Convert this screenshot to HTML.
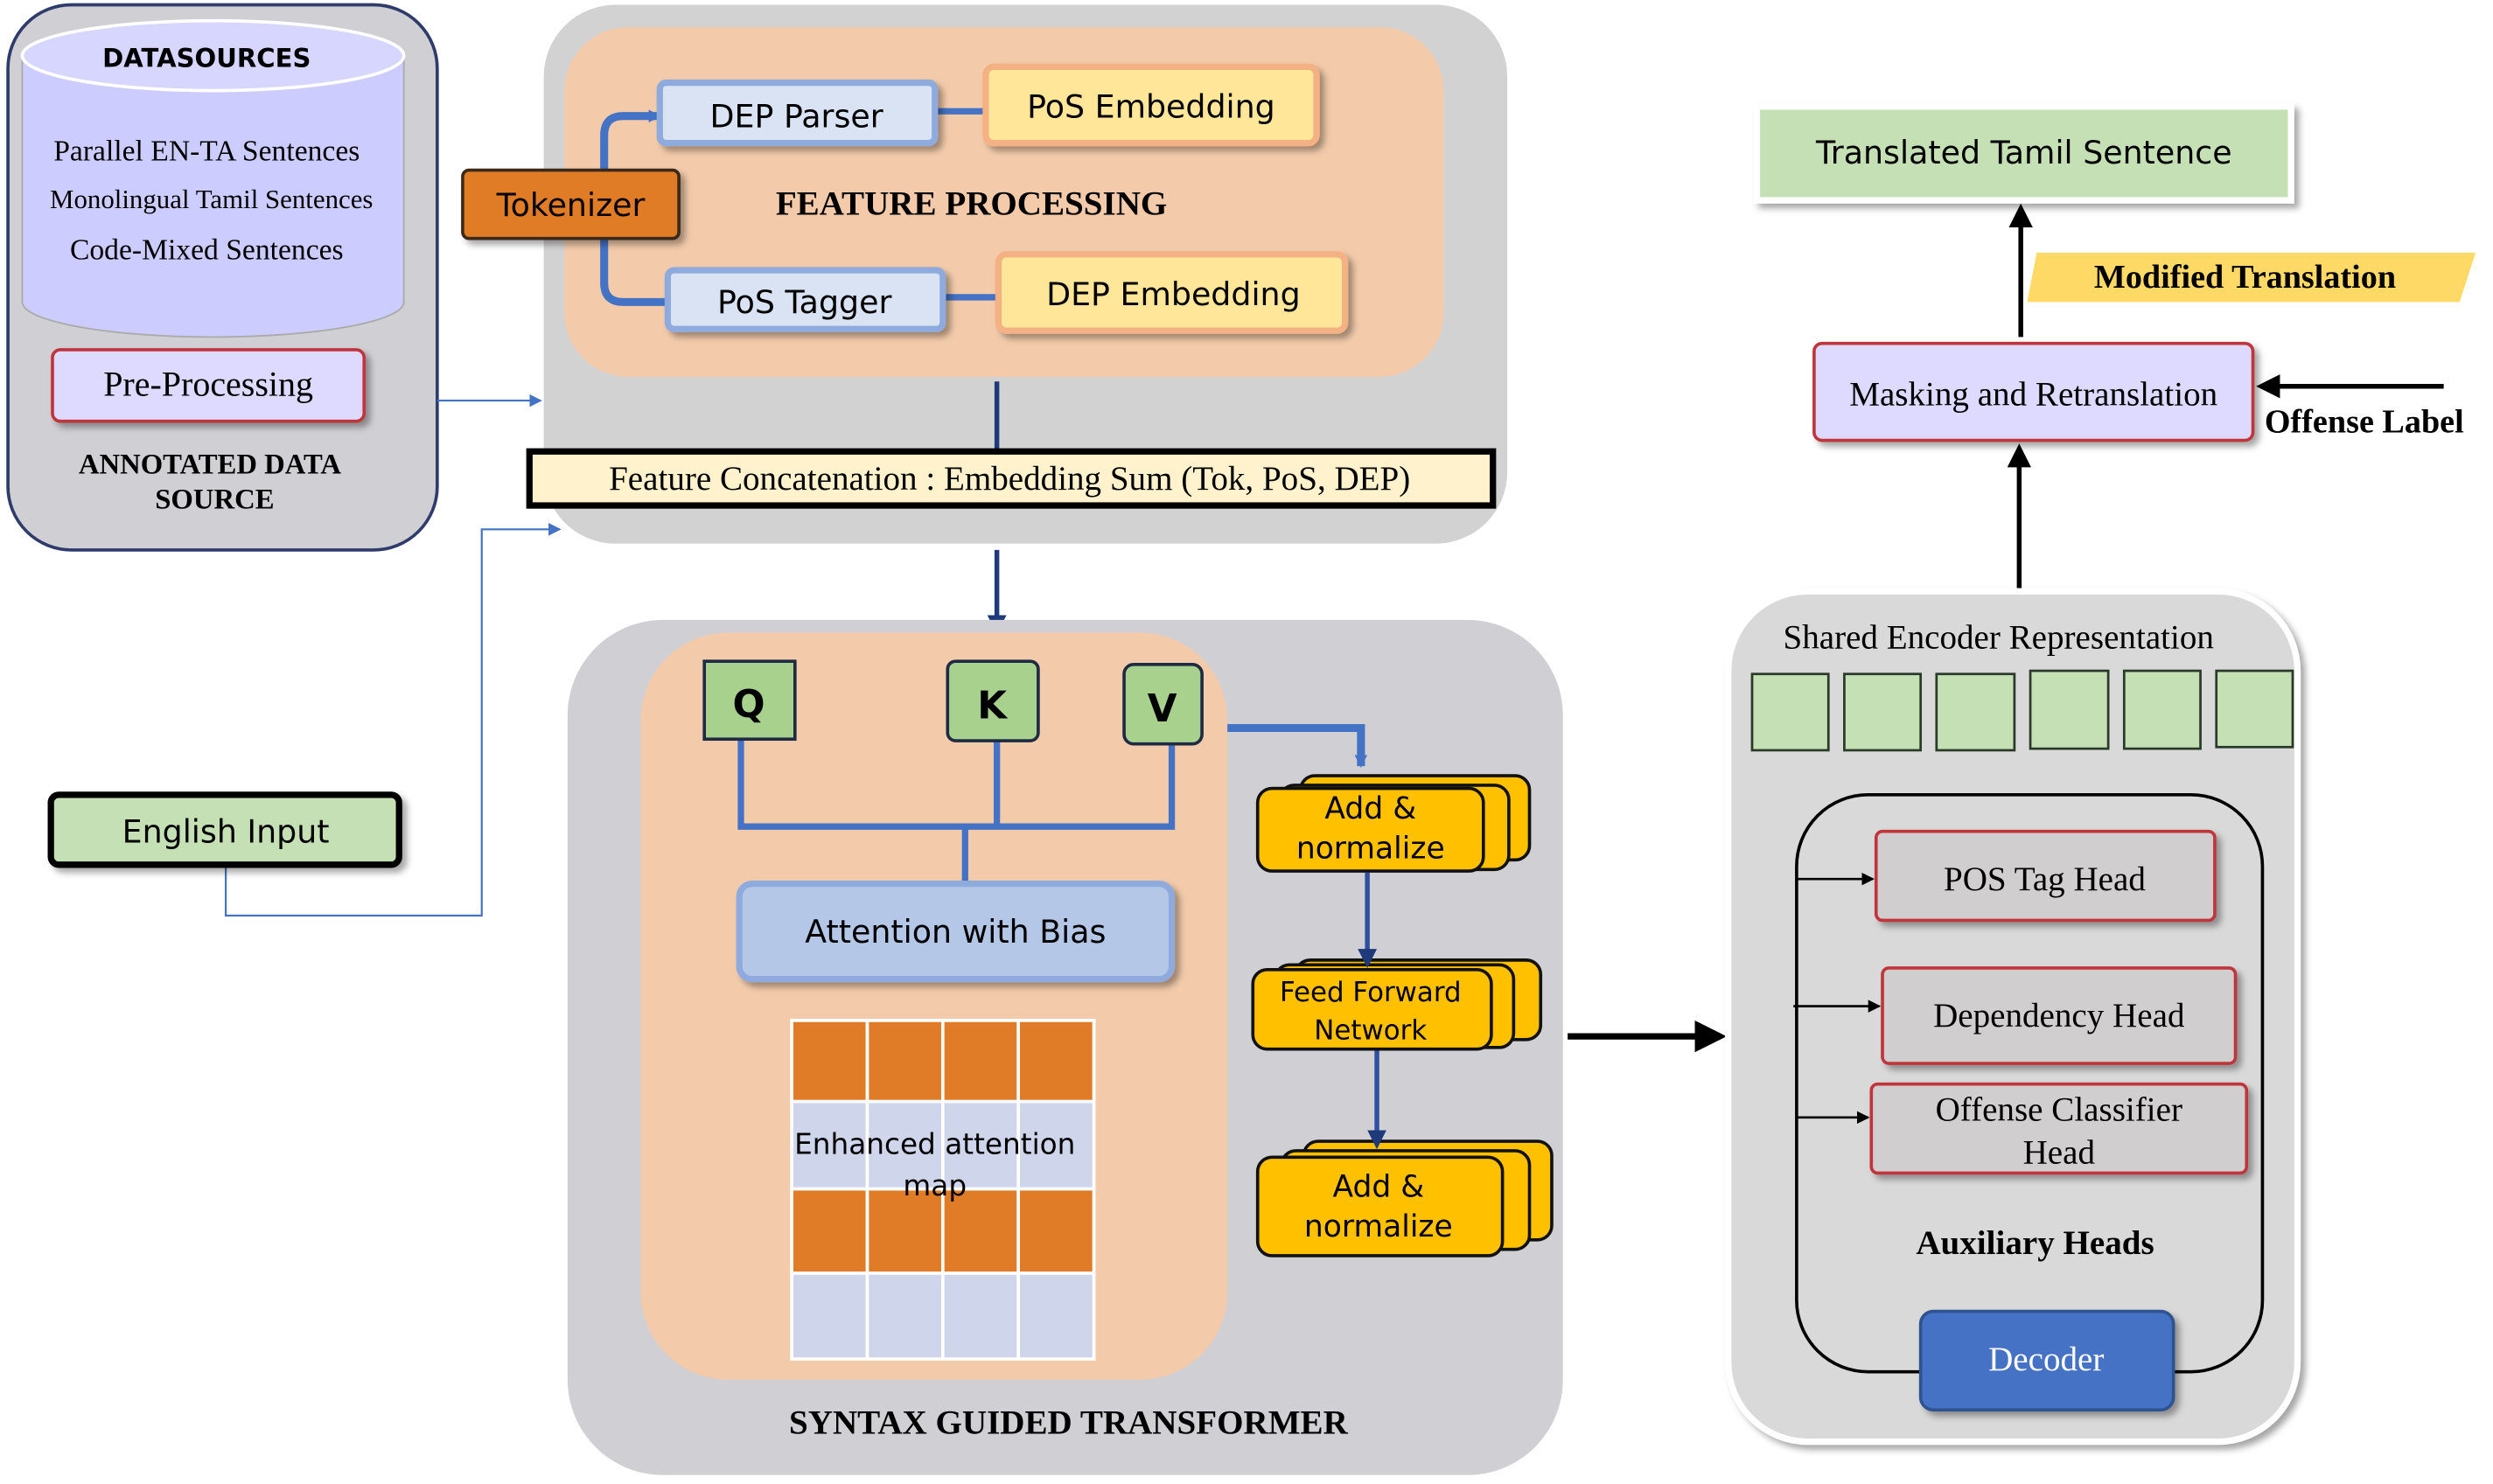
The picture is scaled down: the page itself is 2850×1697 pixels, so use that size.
<!DOCTYPE html>
<html><head><meta charset="utf-8"><style>
html,body{margin:0;padding:0;background:#fff;}
svg{display:block;}
.s{font-family:"Liberation Serif",serif;}
.a{font-family:"DejaVu Sans","Liberation Sans",sans-serif;}
</style></head><body>
<svg width="2850" height="1697" viewBox="0 0 1568 933.6" xmlns="http://www.w3.org/2000/svg">
<defs>
<marker id="ab" markerWidth="14" markerHeight="14" refX="10" refY="7" orient="auto" markerUnits="userSpaceOnUse"><path d="M0,1 L12,7 L0,13 z" fill="#4472c4"/></marker>
<marker id="abs" markerWidth="8" markerHeight="8" refX="7" refY="4" orient="auto" markerUnits="userSpaceOnUse"><path d="M0,0 L8,4 L0,8 z" fill="#4472c4"/></marker>
<marker id="ak" markerWidth="5" markerHeight="5" refX="4" refY="2.5" orient="auto" markerUnits="strokeWidth"><path d="M0,0 L5,2.5 L0,5 z" fill="#000"/></marker>
<marker id="aks" markerWidth="8" markerHeight="8" refX="7" refY="4" orient="auto" markerUnits="userSpaceOnUse"><path d="M0,0 L8,4 L0,8 z" fill="#000"/></marker>
<marker id="an" markerWidth="4" markerHeight="4" refX="3" refY="2" orient="auto" markerUnits="strokeWidth"><path d="M0,0 L4,2 L0,4 z" fill="#1f3a7a"/></marker>
<filter id="sh" x="-10%" y="-10%" width="130%" height="140%"><feDropShadow dx="3" dy="3" stdDeviation="2" flood-color="#000" flood-opacity="0.35"/></filter>
</defs>

<!-- Left panel -->
<rect x="5" y="3" width="270" height="343" rx="40" fill="#d0cfd4" stroke="#2f3b6a" stroke-width="2"/>
<path d="M14,35 L14,190 A120,22 0 0 0 254,190 L254,35" fill="#ccccff" stroke="#aaa" stroke-width="1"/>
<ellipse cx="134" cy="35" rx="120" ry="22" fill="#d6d6ff" stroke="#fff" stroke-width="2"/>
<text x="130" y="42" class="a" font-size="16" font-weight="bold" text-anchor="middle">DATASOURCES</text>
<text x="130" y="101" class="s" font-size="18.5" text-anchor="middle">Parallel EN-TA Sentences</text>
<text x="133" y="131" class="s" font-size="17" text-anchor="middle">Monolingual Tamil Sentences</text>
<text x="130" y="163" class="s" font-size="18.5" text-anchor="middle">Code-Mixed Sentences</text>
<rect x="33" y="220" width="196" height="45" rx="5" fill="#ddd9ff" stroke="#c0353a" stroke-width="2" filter="url(#sh)"/>
<text x="131" y="249" class="s" font-size="22" text-anchor="middle">Pre-Processing</text>
<text x="132" y="298" class="s" font-size="18" font-weight="bold" text-anchor="middle">ANNOTATED DATA</text>
<text x="135" y="320" class="s" font-size="18" font-weight="bold" text-anchor="middle">SOURCE</text>

<!-- Feature processing panel -->
<rect x="342" y="3" width="606" height="339" rx="45" fill="#d3d2d2"/>
<rect x="355" y="17" width="553" height="220" rx="40" fill="#f3cbaa"/>
<path d="M380,107 L380,85 Q380,73 392,73 L415,73" fill="none" stroke="#4472c4" stroke-width="5" marker-end="url(#abs)"/>
<path d="M380,150 L380,178 Q380,190 392,190 L420,190" fill="none" stroke="#4472c4" stroke-width="5"/>
<line x1="588" y1="70" x2="622" y2="70" stroke="#4472c4" stroke-width="4"/>
<line x1="593" y1="187" x2="630" y2="187" stroke="#4472c4" stroke-width="4"/>
<rect x="291" y="107" width="136" height="43" rx="4" fill="#e07b28" stroke="#3a2a1a" stroke-width="2" filter="url(#sh)"/>
<text x="359" y="136" class="a" font-size="20" text-anchor="middle">Tokenizer</text>
<rect x="415" y="52" width="173" height="38" rx="4" fill="#dae3f3" stroke="#8faadc" stroke-width="4" filter="url(#sh)"/>
<text x="501" y="80" class="a" font-size="20" text-anchor="middle">DEP Parser</text>
<rect x="620" y="42" width="208" height="48" rx="5" fill="#ffe699" stroke="#f4b183" stroke-width="4" filter="url(#sh)"/>
<text x="724" y="74" class="a" font-size="20" text-anchor="middle">PoS Embedding</text>
<rect x="420" y="170" width="173" height="37" rx="4" fill="#dae3f3" stroke="#8faadc" stroke-width="4" filter="url(#sh)"/>
<text x="506" y="197" class="a" font-size="20" text-anchor="middle">PoS Tagger</text>
<rect x="628" y="160" width="218" height="48" rx="5" fill="#ffe699" stroke="#f4b183" stroke-width="4" filter="url(#sh)"/>
<text x="738" y="192" class="a" font-size="20" text-anchor="middle">DEP Embedding</text>
<text x="611" y="135" class="s" font-size="21.5" font-weight="bold" text-anchor="middle">FEATURE PROCESSING</text>
<line x1="627" y1="240" x2="627" y2="283" stroke="#1f3a7a" stroke-width="3"/>
<rect x="333" y="284" width="606" height="34" fill="#fff2cc" stroke="#000" stroke-width="4"/>
<text x="635" y="308" class="s" font-size="21.5" text-anchor="middle">Feature Concatenation : Embedding Sum (Tok, PoS, DEP)</text>

<!-- left connectors -->
<line x1="275" y1="252" x2="340" y2="252" stroke="#4472c4" stroke-width="1.2" marker-end="url(#abs)"/>
<polyline points="142,545 142,576 303,576 303,333 352,333" fill="none" stroke="#4472c4" stroke-width="1.2" marker-end="url(#abs)"/>
<rect x="32" y="500" width="219" height="44" rx="5" fill="#c5e0b4" stroke="#000" stroke-width="4" filter="url(#sh)"/>
<text x="142" y="530" class="a" font-size="20" text-anchor="middle">English Input</text>

<!-- down arrow -->
<line x1="627" y1="346" x2="627" y2="396" stroke="#1f3a7a" stroke-width="3" marker-end="url(#an)"/>

<!-- Syntax panel -->
<rect x="357" y="390" width="626" height="538" rx="60" fill="#d0cfd3"/>
<rect x="403" y="398" width="369" height="470" rx="55" fill="#f3cbaa"/>
<polyline points="466,465 466,520 737,520 737,468" fill="none" stroke="#4472c4" stroke-width="4"/>
<line x1="627" y1="466" x2="627" y2="520" stroke="#4472c4" stroke-width="4"/>
<line x1="607" y1="520" x2="607" y2="556" stroke="#4472c4" stroke-width="4"/>
<rect x="443" y="416" width="57" height="49" fill="#a9d18e" stroke="#1f2a44" stroke-width="2"/>
<text x="471" y="451" class="a" font-size="24" font-weight="bold" text-anchor="middle">Q</text>
<rect x="596" y="416" width="57" height="50" rx="5" fill="#a9d18e" stroke="#1f2a44" stroke-width="2"/>
<text x="624" y="452" class="a" font-size="24" font-weight="bold" text-anchor="middle">K</text>
<rect x="707" y="418" width="49" height="50" rx="6" fill="#a9d18e" stroke="#1f2a44" stroke-width="2"/>
<text x="731" y="454" class="a" font-size="24" font-weight="bold" text-anchor="middle">V</text>
<rect x="465" y="556" width="272" height="60" rx="8" fill="#b4c7e7" stroke="#8faadc" stroke-width="4" filter="url(#sh)"/>
<text x="601" y="593" class="a" font-size="20" text-anchor="middle">Attention with Bias</text>
<g stroke="#fff" stroke-width="2">
<rect x="498" y="642" width="190" height="213" fill="#fff"/>
<rect x="498" y="642" width="47.5" height="51" fill="#e07b28"/><rect x="545.5" y="642" width="47.5" height="51" fill="#e07b28"/><rect x="593" y="642" width="47.5" height="51" fill="#e07b28"/><rect x="640.5" y="642" width="47.5" height="51" fill="#e07b28"/>
<rect x="498" y="693" width="47.5" height="55" fill="#cfd5ea"/><rect x="545.5" y="693" width="47.5" height="55" fill="#cfd5ea"/><rect x="593" y="693" width="47.5" height="55" fill="#cfd5ea"/><rect x="640.5" y="693" width="47.5" height="55" fill="#cfd5ea"/>
<rect x="498" y="748" width="47.5" height="53" fill="#e07b28"/><rect x="545.5" y="748" width="47.5" height="53" fill="#e07b28"/><rect x="593" y="748" width="47.5" height="53" fill="#e07b28"/><rect x="640.5" y="748" width="47.5" height="53" fill="#e07b28"/>
<rect x="498" y="801" width="47.5" height="54" fill="#cfd5ea"/><rect x="545.5" y="801" width="47.5" height="54" fill="#cfd5ea"/><rect x="593" y="801" width="47.5" height="54" fill="#cfd5ea"/><rect x="640.5" y="801" width="47.5" height="54" fill="#cfd5ea"/>
</g>
<text x="588" y="726" class="a" font-size="18" text-anchor="middle">Enhanced attention</text>
<text x="588" y="752" class="a" font-size="18" text-anchor="middle">map</text>
<polyline points="772,458 856,458 856,482" fill="none" stroke="#4472c4" stroke-width="5" marker-end="url(#abs)"/>
<g stroke="#111" stroke-width="2" fill="#ffc000">
<rect x="818" y="488" width="144" height="53" rx="9"/><rect x="805" y="494" width="144" height="53" rx="9"/><rect x="791" y="496" width="142" height="52" rx="9"/>
<rect x="815" y="604" width="154" height="50" rx="9"/><rect x="802" y="607" width="150" height="52" rx="9"/><rect x="788" y="610" width="150" height="50" rx="9"/>
<rect x="820" y="718" width="156" height="62" rx="9"/><rect x="806" y="724" width="156" height="62" rx="9"/><rect x="791" y="728" width="154" height="62" rx="9"/>
</g>
<text x="862" y="515" class="a" font-size="19" text-anchor="middle">Add &amp;</text>
<text x="862" y="540" class="a" font-size="19" text-anchor="middle">normalize</text>
<text x="862" y="630" class="a" font-size="17" text-anchor="middle">Feed Forward</text>
<text x="862" y="654" class="a" font-size="17" text-anchor="middle">Network</text>
<text x="867" y="753" class="a" font-size="19" text-anchor="middle">Add &amp;</text>
<text x="867" y="778" class="a" font-size="19" text-anchor="middle">normalize</text>
<line x1="860" y1="549" x2="860" y2="606" stroke="#2f4fa0" stroke-width="3" marker-end="url(#an)"/>
<line x1="866" y1="661" x2="866" y2="720" stroke="#2f4fa0" stroke-width="3" marker-end="url(#an)"/>
<text x="672" y="902" class="s" font-size="21.5" font-weight="bold" text-anchor="middle">SYNTAX GUIDED TRANSFORMER</text>

<!-- arrow to right panel -->
<line x1="986" y1="652" x2="1082" y2="652" stroke="#000" stroke-width="4" marker-end="url(#ak)"/>

<!-- Right panel -->
<rect x="1087" y="372" width="358" height="535" rx="50" fill="#d9d9d9" stroke="#fff" stroke-width="4" filter="url(#sh)"/>
<text x="1257" y="408" class="s" font-size="21.5" text-anchor="middle">Shared Encoder Representation</text>
<g fill="#c5e0b4" stroke="#2a3a2a" stroke-width="1.5">
<rect x="1102" y="424" width="48" height="48"/><rect x="1160" y="424" width="48" height="48"/><rect x="1218" y="424" width="49" height="48"/><rect x="1277" y="422" width="49" height="49"/><rect x="1336" y="422" width="48" height="49"/><rect x="1394" y="422" width="48" height="48"/>
</g>
<rect x="1130" y="500" width="293" height="363" rx="45" fill="none" stroke="#000" stroke-width="2"/>
<rect x="1180" y="523" width="213" height="56" rx="4" fill="#d0cece" stroke="#c0353a" stroke-width="2" filter="url(#sh)"/>
<text x="1286" y="560" class="s" font-size="21.5" text-anchor="middle">POS Tag Head</text>
<rect x="1184" y="609" width="222" height="60" rx="4" fill="#d0cece" stroke="#c0353a" stroke-width="2" filter="url(#sh)"/>
<text x="1295" y="646" class="s" font-size="21.5" text-anchor="middle">Dependency Head</text>
<rect x="1177" y="682" width="236" height="56" rx="4" fill="#d0cece" stroke="#c0353a" stroke-width="2" filter="url(#sh)"/>
<text x="1295" y="705" class="s" font-size="21.5" text-anchor="middle">Offense Classifier</text>
<text x="1295" y="732" class="s" font-size="21.5" text-anchor="middle">Head</text>
<line x1="1130" y1="553" x2="1178" y2="553" stroke="#000" stroke-width="1.5" marker-end="url(#aks)"/>
<line x1="1128" y1="633" x2="1182" y2="633" stroke="#000" stroke-width="1.5" marker-end="url(#aks)"/>
<line x1="1130" y1="703" x2="1175" y2="703" stroke="#000" stroke-width="1.5" marker-end="url(#aks)"/>
<text x="1280" y="789" class="s" font-size="21.5" font-weight="bold" text-anchor="middle">Auxiliary Heads</text>
<rect x="1208" y="825" width="159" height="62" rx="8" fill="#4472c4" stroke="#2f528f" stroke-width="2" filter="url(#sh)"/>
<text x="1287" y="862" class="s" font-size="21.5" fill="#fff" text-anchor="middle">Decoder</text>

<line x1="1270" y1="370" x2="1270" y2="282" stroke="#000" stroke-width="3" marker-end="url(#ak)"/>
<rect x="1141" y="216" width="276" height="61" rx="5" fill="#ddd9ff" stroke="#c0353a" stroke-width="2" filter="url(#sh)"/>
<text x="1279" y="255" class="s" font-size="21.5" text-anchor="middle">Masking and Retranslation</text>
<line x1="1537" y1="243" x2="1422" y2="243" stroke="#000" stroke-width="3" marker-end="url(#ak)"/>
<text x="1487" y="272" class="s" font-size="21" font-weight="bold" text-anchor="middle">Offense Label</text>
<line x1="1271" y1="212" x2="1271" y2="131" stroke="#000" stroke-width="3" marker-end="url(#ak)"/>
<polygon points="1281,159 1557,159 1547,190 1275,190" fill="#ffd966"/>
<text x="1412" y="181" class="s" font-size="21" font-weight="bold" text-anchor="middle">Modified Translation</text>
<rect x="1105" y="67" width="336" height="59" fill="#c5e0b4" stroke="#fff" stroke-width="4" filter="url(#sh)"/>
<text x="1273" y="103" class="a" font-size="20" text-anchor="middle">Translated Tamil Sentence</text>
</svg>
</body></html>
